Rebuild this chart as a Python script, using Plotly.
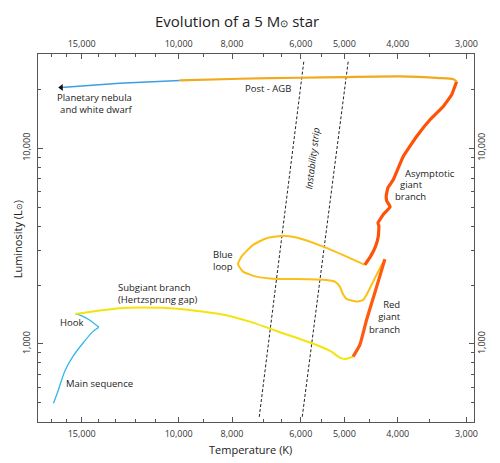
import math
import plotly.graph_objects as go

# ---------------- data (temperature K, luminosity Lsun) ----------------
ms_T = [16880, 16580, 16120, 15570, 14930, 14320, 13960]
ms_L = [498, 570, 722, 861, 1008, 1156, 1217]

hook_T = [13960, 14520, 15030, 15390]
hook_L = [1217, 1326, 1395, 1423]

sg_T = [15390, 13920, 12800, 11770, 9958, 8424, 7428, 6463, 5618, 5278, 5097, 4991, 4821]
sg_L = [1423, 1480, 1522, 1533, 1510, 1423, 1300, 1134, 988, 913, 851, 838, 861]

rgb_T = [4821, 4688, 4558, 4421, 4310, 4222]
rgb_L = [861, 988, 1326, 1759, 2226, 2709]

loop_T = [4222, 4310, 4434, 4558, 4623, 4752, 4955, 5039, 5097, 5205, 5389, 6110, 6644,
          7224, 7640, 7802, 7691, 7325, 6926, 6507, 6110, 5466, 4955, 4590]
loop_L = [2709, 2437, 2081, 1780, 1678, 1645, 1698, 1816, 1963, 2081, 2123, 2148, 2148,
          2207, 2341, 2555, 2793, 3205, 3468, 3563, 3493, 3142, 2793, 2534]

agb_T = [4590, 4477, 4393, 4338, 4329, 4345, 4240, 4130, 4190, 4198, 4169, 4077, 3910,
         3697, 3496, 3307, 3193, 3127]
agb_L = [2534, 2816, 3131, 3563, 4009, 4150, 4617, 5013, 5379, 5706, 6269, 6887, 9060,
         11466, 13950, 16320, 18730, 21890]

pagb_T = [3127, 3176, 3354, 3965, 4955, 6026, 7746, 9958]
pagb_L = [21890, 22520, 22790, 23220, 23060, 22870, 22600, 22150]

pn_T = [9958, 12800, 16340]
pn_L = [22150, 21430, 20400]

strip_left_T = [5926, 7145]
strip_left_L = [27610, 417]
strip_right_T = [4922, 5969]
strip_right_L = [27610, 417]

x_ticks = [15000, 10000, 8000, 6000, 5000, 4000, 3000]
x_ticktext = ["15,000", "10,000", "8,000", "6,000", "5,000", "4,000", "3,000"]
x_minor = [17000, 16000, 14000, 13000, 12000, 11000, 9000, 7000, 6500, 5500, 4500, 3500]
y_ticks = [1000, 10000]
y_ticktext = ["1,000", "10,000"]
y_minor = [500, 600, 700, 800, 900, 2000, 3000, 4000, 5000, 6000, 7000, 8000, 9000, 20000]

x_range = [math.log10(18010), math.log10(2908)]
y_range = [math.log10(399.5), math.log10(30230)]

FONT = "Open Sans"
fig = go.Figure()

def line(T, L, color, width, dash=None, smooth=0.5):
    fig.add_trace(go.Scatter(x=T, y=L, mode="lines", hoverinfo="skip",
                             line=dict(color=color, width=width, dash=dash,
                                       shape="spline" if smooth else "linear",
                                       smoothing=smooth if smooth else None),
                             showlegend=False))

line(strip_left_T, strip_left_L, "#222222", 1, "3px,2px", 0)
line(strip_right_T, strip_right_L, "#222222", 1, "3px,2px", 0)
line(ms_T, ms_L, "#35b6ea", 1.3)
line(hook_T, hook_L, "#35b6ea", 1.3)
line(sg_T, sg_L, "#f3e40c", 2)
line(loop_T, loop_L, "#fbbf16", 2)
line(rgb_T, rgb_L, "#ff5a0f", 3.2)
line(agb_T, agb_L, "#ff5209", 3.2, smooth=0.3)
line(pagb_T, pagb_L, "#f2a91c", 2.2)
line(pn_T, pn_L, "#3d9fe2", 1.4)
fig.add_trace(go.Scatter(x=[pn_T[-1]], y=[pn_L[-1]], mode="markers", hoverinfo="skip",
                         marker=dict(symbol="triangle-left", size=6, color="#111111"), showlegend=False))
# invisible trace for the mirrored axes
fig.add_trace(go.Scatter(x=[10000], y=[1000], xaxis="x2", yaxis="y2", mode="markers",
                         marker=dict(opacity=0), hoverinfo="skip", showlegend=False))

axcommon = dict(type="log", showgrid=False, zeroline=False, showline=True, linecolor="#555555",
                linewidth=1.2, ticks="inside", ticklen=5, tickcolor="#555555", automargin=False,
                tickfont=dict(family=FONT, size=9, color="#333333"))
minor = dict(ticks="inside", ticklen=3, tickcolor="#555555")

fig.update_layout(
    width=500, height=463, plot_bgcolor="white", paper_bgcolor="white",
    margin=dict(l=38, r=26, t=54, b=41, autoexpand=False),
    xaxis=dict(range=x_range, tickvals=x_ticks, ticktext=x_ticktext, ticklabelstandoff=3,
               minor=dict(tickvals=x_minor, **minor), **axcommon),
    yaxis=dict(range=y_range, tickvals=y_ticks, ticktext=y_ticktext, tickangle=-90, ticklabelstandoff=3,
               minor=dict(tickvals=y_minor, **minor), **axcommon),
    xaxis2=dict(range=x_range, tickvals=x_ticks, ticktext=x_ticktext, overlaying="x", side="top",
                ticklabelstandoff=2, minor=dict(tickvals=x_minor, **minor), **axcommon),
    yaxis2=dict(range=y_range, tickvals=y_ticks, ticktext=y_ticktext, overlaying="y", side="right",
                tickangle=-90, ticklabelstandoff=-1, minor=dict(tickvals=y_minor, **minor), **axcommon),
)

X0, X1, Y0, Y1 = 38.5, 474.0, 422.0, 54.3
def P(x, y):
    return (x - X0) / (X1 - X0), (Y0 - y) / (Y0 - Y1)

def note(text, x, y, xanchor="center", align="center", size=9.5, angle=0):
    px, py = P(x, y)
    fig.add_annotation(text=text, x=px, y=py, xref="paper", yref="paper", showarrow=False,
                       xanchor=xanchor, yanchor="middle", align=align, textangle=angle,
                       font=dict(family=FONT, size=size, color="#222222"))

note("Evolution of a 5 M<span style='font-size:10px'>⊙</span> star", 237, 21, size=15)
note("Temperature (K)", 250.5, 449, size=11)
note("Luminosity (L<span style='font-size:8px'>⊙</span>)", 18, 239, size=11, angle=-90)
note("Planetary nebula<br> and white dwarf", 135, 104, xanchor="right", align="right")
note("Post - AGB", 268.7, 88.3)
note("<i>Instability strip</i>", 313, 158, angle=-83)
note("Asymptotic", 402.7, 173.3, xanchor="left")
note("giant", 397.7, 185, xanchor="left")
note("branch", 392.7, 196.5, xanchor="left")
note("Blue<br>loop", 235.7, 261, xanchor="right", align="left")
note("Subgiant branch<br>(Hertzsprung gap)", 116.7, 293.3, xanchor="left", align="left")
note("Hook", 72, 322.3)
note("Main sequence", 64.3, 383.3, xanchor="left")
note("Red<br>giant<br>branch", 403.3, 317, xanchor="right", align="right")

fig.write_html("out.html", config={"displayModeBar": False},
               post_script="document.body.style.margin='0';document.body.style.overflow='hidden';")
